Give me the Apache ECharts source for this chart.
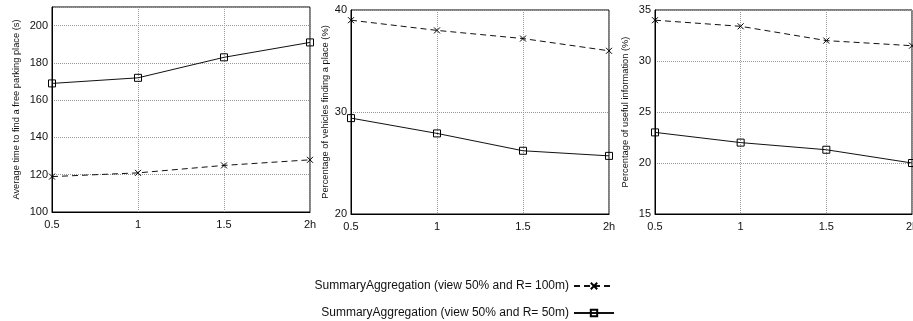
<!DOCTYPE html>
<html><head><meta charset="utf-8">
<script src="https://cdn.jsdelivr.net/npm/echarts@6/dist/echarts.min.js"></script>
<style>html,body{margin:0;padding:0;background:#fff}#c{width:913px;height:321px}</style>
</head><body><div id="c"></div>
<script>
const xValues = [0.5, 1, 1.5, 2];
const xTickLabels = {0.5: '0.5', 1: '1', 1.5: '1.5', 2: '2h'};
const seriesNames = ['SummaryAggregation (view 50% and R= 100m)', 'SummaryAggregation (view 50% and R= 50m)'];
const timeR100 = [119, 121, 125, 128];
const timeR50 = [169, 172, 183, 191];
const vehR100 = [39.0, 38.0, 37.2, 36.0];
const vehR50 = [29.4, 27.9, 26.2, 25.7];
const infoR100 = [34.0, 33.4, 32.0, 31.5];
const infoR50 = [23.0, 22.0, 21.3, 20.0];
const yNames = ['Average time to find a free parking place (s)', 'Percentage of vehicles finding a place (%)', 'Percentage of useful information (%)'];
const yRanges = [[100, 210, 20], [20, 40, 10], [15, 35, 5]];

const font = 'Liberation Sans, Arial, sans-serif';
const grids = [
  {left: 52, top: 7, width: 258, height: 205},
  {left: 351, top: 10, width: 258, height: 204},
  {left: 655, top: 10, width: 257, height: 204}
].map(g => Object.assign(g, {show: true, borderColor: '#000', borderWidth: 1, backgroundColor: 'transparent', containLabel: false, outerBoundsMode: 'none'}));

const nameGaps = [31, 21, 25];
const xAxes = grids.map((g, i) => ({
  type: 'value', gridIndex: i, min: 0.5, max: 2, interval: 0.5,
  axisLine: {lineStyle: {color: '#000', width: 1}},
  axisTick: {show: false},
  axisLabel: {color: '#111', fontSize: 11, fontFamily: font, margin: 7,
    formatter: v => xTickLabels[v] !== undefined ? xTickLabels[v] : ''},
  splitLine: {show: true, lineStyle: {color: '#999', type: [1, 1], width: 1}}
}));
const yAxes = grids.map((g, i) => ({
  type: 'value', gridIndex: i, min: yRanges[i][0], max: yRanges[i][1], interval: yRanges[i][2],
  name: yNames[i], nameLocation: 'middle', nameGap: nameGaps[i],
  nameTextStyle: {color: '#111', fontSize: 9.3, fontFamily: font},
  axisLine: {show: true, lineStyle: {color: '#000', width: 1}},
  axisTick: {show: false},
  axisLabel: {color: '#111', fontSize: 11, fontFamily: font, margin: 4, showMaxLabel: i !== 0},
  splitLine: {show: true, lineStyle: {color: '#999', type: [1, 1], width: 1}}
}));

const crossSym = 'path://M0,0L10,10M10,0L0,10';
function mk(name, vals, idx, dashed) {
  return {
    name: name, type: 'line', xAxisIndex: idx, yAxisIndex: idx,
    data: xValues.map((x, k) => [x, vals[k]]),
    symbol: dashed ? crossSym : 'rect',
    symbolSize: dashed ? 6 : 7,
    showSymbol: true,
    itemStyle: {color: 'rgba(0,0,0,0)', borderColor: '#000', borderWidth: 1},
    lineStyle: {color: '#111', width: 1, type: dashed ? [6, 4] : 'solid'},
    color: '#000',
    animation: false
  };
}
const series = [
  mk(seriesNames[0], timeR100, 0, true), mk(seriesNames[1], timeR50, 0, false),
  mk(seriesNames[0], vehR100, 1, true), mk(seriesNames[1], vehR50, 1, false),
  mk(seriesNames[0], infoR100, 2, true), mk(seriesNames[1], infoR50, 2, false)
];

const chart = echarts.init(document.getElementById('c'), null, {renderer: 'canvas'});
chart.setOption({
  backgroundColor: '#fff',
  animation: false,
  grid: grids, xAxis: xAxes, yAxis: yAxes, series: series,
  legend: [
    {data: [seriesNames[0]], right: 298, top: 280, align: 'right', padding: 0, itemWidth: 40, itemHeight: 8,
     textStyle: {color: '#111', fontSize: 12, fontFamily: font}, selectedMode: false},
    {data: [seriesNames[1]], right: 298, top: 307, align: 'right', padding: 0, itemWidth: 40, itemHeight: 8,
     textStyle: {color: '#111', fontSize: 12, fontFamily: font}, selectedMode: false}
  ]
});
</script></body></html>
